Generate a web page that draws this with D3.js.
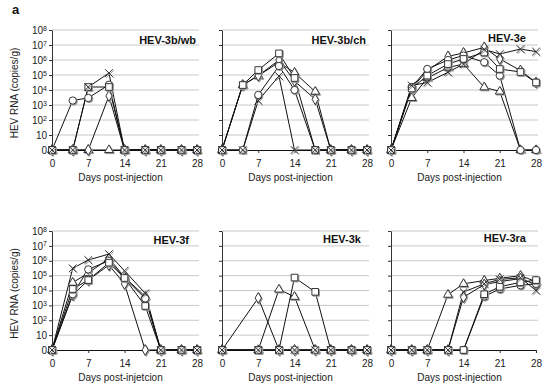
<!DOCTYPE html>
<html><head><meta charset="utf-8">
<script src="https://cdn.jsdelivr.net/npm/d3@7"></script>
<style>body{margin:0;background:#fff}svg{font-family:"Liberation Sans",Arial,sans-serif;display:block}</style>
</head><body><svg id="c" width="550" height="387"></svg>
<script>
// ---------- DATA ----------
const days = [0, 4, 7, 11, 14, 18, 21, 25, 28];
const xTicks = [0, 7, 14, 21, 28];
const yLevels = [0, 1, 2, 3, 4, 5, 6, 7, 8];          // 0 = undetected, k = 10^k copies/g
const shapes = ["circle", "square", "diamond", "triangle", "cross"];
const panelTitles = ["HEV-3b/wb", "HEV-3b/ch", "HEV-3e", "HEV-3f", "HEV-3k", "HEV-3ra"];
const xTitles = ["Days post-injection", "Days post-injection", "Days post-injection",
                 "Days post-injetcion", "Days post-injection", "Days post-injection"];
const yTitle = "HEV RNA (copies/g)";
// log10 HEV RNA per animal (rows follow `shapes`); null = not sampled
const hev3bwb = [
  [0, 3.3, 3.47, 4.35, 0, 0, 0, 0, 0],
  [0, 0, 4.2, 4.2, 0, 0, 0, 0, 0],
  [0, 0, 0, 3.6, 0, 0, 0, 0, 0],
  [0, 0, 0, 0, 0, 0, 0, 0, 0],
  [0, 0, 4.2, 5.13, 0, 0, 0, 0, 0]
];
const hev3bch = [
  [0, 0, 3.67, 5.6, 4.0, 0, 0, 0, 0],
  [0, 4.33, 5.33, 6.44, 4.8, 0, 0, 0, 0],
  [0, 4.33, 4.95, 6.0, 4.6, 3.38, 0, 0, 0],
  [0, 4.33, 4.95, 5.85, 5.16, 3.89, 0, 0, 0],
  [0, 0, 3.29, 4.93, 0, 0, 0, 0, 0]
];
const hev3e = [
  [0, 4.2, 5.4, 6.0, 6.3, 5.85, 4.96, 0, 0],
  [0, 4.1, 4.96, 5.73, 6.07, 6.5, 5.4, 5.2, 4.5],
  [0, 4.1, 5.3, 6.24, 6.47, 6.84, 6.07, 5.3, 4.5],
  [0, 3.47, 4.8, 5.5, 5.73, 4.18, 3.9, 0, 0],
  [0, 4.3, 4.5, 5.18, 5.73, 6.7, 6.4, 6.73, 6.56]
];
const hev3f = [
  [0, 3.75, 5.42, 6.0, 4.84, 3.47, 0, 0, 0],
  [0, 4.1, 4.7, 5.87, 4.84, 2.96, 0, 0, 0],
  [0, 3.7, 4.7, 5.71, 4.44, 0, 0, 0, 0],
  [0, 4.53, 5.17, 6.16, 4.9, 3.6, 0, 0, 0],
  [0, 5.49, 6.05, 6.45, 5.33, 3.81, 0, 0, 0]
];
const hev3k = [
  [0, null, 0, 0, 0, 0, 0, 0, 0],
  [0, null, 0, 0, 4.87, 3.91, 0, 0, 0],
  [0, null, 3.5, 0, 0, 0, 0, 0, 0],
  [0, null, 0, 4.07, 3.58, 0, 0, 0, 0],
  [0, null, 0, 0, 0, 0, 0, 0, 0]
];
const hev3ra = [
  [0, 0, 0, 0, 0, 3.6, 4.1, 4.35, 4.45],
  [0, 0, 0, 0, 0, 3.75, 4.25, 4.55, 4.7],
  [0, 0, 0, 0, 3.55, 4.4, 4.6, 4.8, 4.4],
  [0, 0, 0, 3.72, 4.45, 4.67, 4.82, 5.0, 4.6],
  [0, 0, 0, 0, 3.9, 4.45, 4.75, 4.85, 4.0]
];
const panelData = [hev3bwb, hev3bch, hev3e, hev3f, hev3k, hev3ra];

// ---------- LAYOUT ----------
const colX = [[52, 197], [222, 367], [391, 536]];
const rowY = [[150, 30], [350, 231]];
const titleX = [196, 366, 526, 189, 361, 526];
const titleDy = [13.5, 13.5, 12, 12.5, 12, 11];
const drawOrder = [3, 2, 0, 1, 4];
const symbolType = {
  circle: d3.symbolCircle, square: d3.symbolSquare, diamond: d3.symbolDiamond,
  triangle: d3.symbolTriangle, cross: d3.symbolTimes
};
const symbolSize = { circle: 42, square: 44, diamond: 34, triangle: 34, cross: 40 };

const svg = d3.select("#c");
svg.append("text").attr("x", 12).attr("y", 14).attr("font-size", 13)
  .attr("font-weight", "bold").attr("fill", "#111").text("a");

panelData.forEach((data, p) => {
  const col = p % 3, row = Math.floor(p / 3);
  const x = d3.scaleLinear().domain([0, 28]).range(colX[col]);
  const y = d3.scaleLinear().domain([0, 8]).range(rowY[row]);
  const g = svg.append("g");

  // gridlines
  g.append("g").selectAll("line").data(yLevels.filter(v => v > 0)).join("line")
    .attr("x1", x(0)).attr("x2", x(28) + 2)
    .attr("y1", d => y(d)).attr("y2", d => y(d))
    .attr("stroke", "#c8c8c8").attr("stroke-width", 1);

  // y axis
  const ya = g.append("g").attr("transform", `translate(${x(0)},0)`)
    .call(d3.axisLeft(y).tickValues(yLevels).tickSize(3).tickSizeOuter(0).tickPadding(2).tickFormat(() => ""));
  ya.select(".domain").attr("stroke", "#333");
  ya.selectAll(".tick line").attr("stroke", "#333");
  if (col === 0) {
    ya.selectAll(".tick text").each(function (d) {
      const t = d3.select(this).attr("font-size", 10).attr("fill", "#222")
        .attr("font-family", "'Liberation Sans',Arial,sans-serif");
      if (d === 0) t.text("0");
      else if (d === 1) t.text("10");
      else {
        t.text("10");
        t.append("tspan").attr("font-size", 7).attr("dy", "-0.45em").text(d);
      }
    });
  }

  // x axis
  const xa = g.append("g").attr("transform", `translate(0,${y(0)})`)
    .call(d3.axisBottom(x).tickValues(xTicks).tickSize(3).tickSizeOuter(0).tickPadding(7));
  xa.select(".domain").attr("stroke", "#111").attr("stroke-width", 1.2);
  xa.selectAll(".tick line").attr("stroke", "#333");
  xa.selectAll(".tick text").attr("font-size", 10).attr("fill", "#222")
    .attr("font-family", "'Liberation Sans',Arial,sans-serif");

  // x title
  g.append("text").attr("x", (colX[col][0] + colX[col][1]) / 2 - 4)
    .attr("y", rowY[row][0] + 30.5).attr("text-anchor", "middle")
    .attr("font-size", 10).attr("fill", "#222").text(xTitles[p]);

  // y title
  if (col === 0) {
    const cy = (rowY[row][0] + rowY[row][1]) / 2 + 3;
    g.append("text").attr("transform", `translate(17.5,${cy}) rotate(-90)`)
      .attr("text-anchor", "middle").attr("font-size", 10).attr("fill", "#222").text(yTitle);
  }

  // panel title
  g.append("text").attr("x", titleX[p]).attr("y", rowY[row][1] + titleDy[p])
    .attr("text-anchor", "end").attr("font-size", 11).attr("font-weight", "bold")
    .attr("fill", "#111").text(panelTitles[p]);

  // series
  const line = d3.line().defined(d => d.v !== null).x(d => x(d.day)).y(d => y(d.v));
  const series = data.map((vals, i) => ({
    shape: shapes[i],
    pts: days.map((day, j) => ({ day, v: vals[j] })).filter(d => d.v !== null)
  }));
  drawOrder.forEach(i => {
    g.append("path").datum(series[i].pts).attr("d", line)
      .attr("fill", "none").attr("stroke", "#111").attr("stroke-width", 1);
  });
  drawOrder.forEach(i => {
    const s = series[i];
    const sym = d3.symbol().type(symbolType[s.shape]).size(symbolSize[s.shape]);
    // shadow
    g.append("g").selectAll("path").data(s.pts).join("path")
      .attr("transform", d => `translate(${x(d.day) + 1},${y(d.v) + 1})`)
      .attr("d", sym).attr("fill", "#999").attr("stroke", "#999").attr("stroke-width", 1);
    g.append("g").selectAll("path").data(s.pts).join("path")
      .attr("transform", d => `translate(${x(d.day)},${y(d.v)})`)
      .attr("d", sym).attr("fill", "#fff").attr("stroke", "#222").attr("stroke-width", 0.9);
  });
});
</script></body></html>
